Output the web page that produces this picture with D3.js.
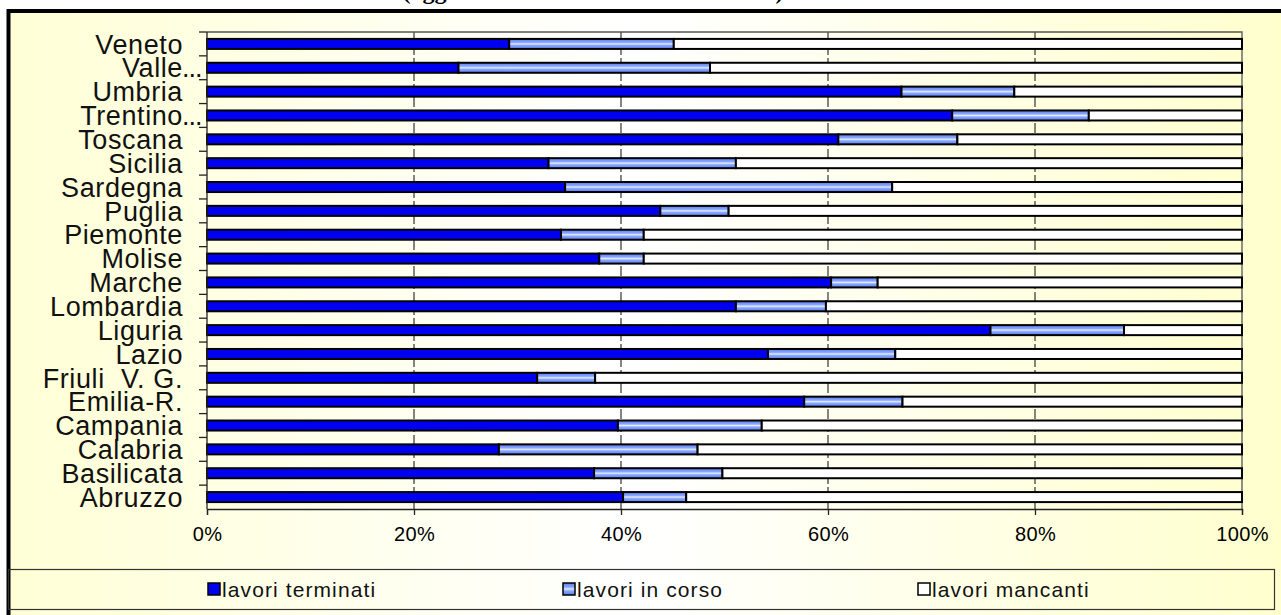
<!DOCTYPE html>
<html>
<head>
<meta charset="utf-8">
<script src="https://cdn.jsdelivr.net/npm/d3@7"></script>
<style>
  body { margin: 0; background: #fff; overflow: hidden; }
</style>
</head>
<body>
<div class="canvas"></div>
<script>
// regions, top to bottom as in the chart
const regions = [
  "Veneto", "Valle...", "Umbria", "Trentino...", "Toscana", "Sicilia",
  "Sardegna", "Puglia", "Piemonte", "Molise", "Marche", "Lombardia",
  "Liguria", "Lazio", "Friuli  V. G.", "Emilia-R.", "Campania", "Calabria",
  "Basilicata", "Abruzzo"
];

// percentages for each series
const terminati = [29.2, 24.3, 67.1, 72.0, 61.0, 33.0, 34.6, 43.8, 34.2, 37.9,
  60.3, 51.1, 75.7, 54.2, 31.9, 57.7, 39.7, 28.2, 37.4, 40.2];
const inCorso = [15.9, 24.3, 10.9, 13.2, 11.5, 18.1, 31.6, 6.6, 8.0, 4.3,
  4.5, 8.7, 12.9, 12.3, 5.6, 9.5, 13.9, 19.2, 12.4, 6.1];
const mancanti = [54.9, 51.4, 22.0, 14.8, 27.5, 48.9, 33.8, 49.6, 57.8, 57.8,
  35.2, 40.2, 11.4, 33.5, 62.5, 32.8, 46.4, 52.6, 50.2, 53.7];

const seriesNames = ["lavori terminati", "lavori in corso", "lavori mancanti"];
const xTicks = [0, 20, 40, 60, 80, 100];

const table = regions.map((r, i) => ({
  region: r,
  terminati: terminati[i],
  inCorso: inCorso[i],
  mancanti: mancanti[i],
}));

const width = 1281;
const height = 615;

const svg = d3.select(".canvas").append("svg")
  .attr("width", width)
  .attr("height", height);

const defs = svg.append("defs");

const bg = defs.append("linearGradient").attr("id", "bg")
  .attr("x1", 0).attr("x2", 1).attr("y1", 0).attr("y2", 0);
bg.append("stop").attr("offset", "0%").attr("stop-color", "#ffffd6");
bg.append("stop").attr("offset", "48%").attr("stop-color", "#ffffff");
bg.append("stop").attr("offset", "100%").attr("stop-color", "#ffffcc");

const stripe = defs.append("linearGradient").attr("id", "stripe")
  .attr("x1", 0).attr("x2", 0).attr("y1", 0).attr("y2", 1);
stripe.append("stop").attr("offset", "0%").attr("stop-color", "#5a7cf0");
stripe.append("stop").attr("offset", "35%").attr("stop-color", "#8aa8ff");
stripe.append("stop").attr("offset", "50%").attr("stop-color", "#e4ecff");
stripe.append("stop").attr("offset", "65%").attr("stop-color", "#8aa8ff");
stripe.append("stop").attr("offset", "100%").attr("stop-color", "#5a7cf0");

const colors = ["#0000f0", "url(#stripe)", "#ffffff"];

// title, mostly cut off at the top
svg.append("text")
  .attr("x", 593)
  .attr("y", -1)
  .attr("text-anchor", "middle")
  .style("font-family", "Liberation Serif, serif")
  .style("font-weight", "bold")
  .style("font-size", "24px")
  .text("(aggiornamento al 31 dicembre 2008)");

// background and frame
svg.append("rect")
  .attr("x", 8.5)
  .attr("y", 11)
  .attr("width", 1300)
  .attr("height", 640)
  .attr("fill", "url(#bg)")
  .attr("stroke", "#000")
  .attr("stroke-width", 4);

const plot = { left: 207, right: 1242, top: 32, bottom: 509 };

const x = d3.scaleLinear().domain([0, 100]).range([plot.left, plot.right]);
const y = d3.scaleBand().domain(regions).range([plot.top, plot.bottom])
  .paddingInner(0.58).paddingOuter(0.29);
const yBand = d3.scaleBand().domain(regions).range([plot.top, plot.bottom]);

// gridlines
svg.append("g")
  .selectAll("line")
  .data(xTicks.slice(1, -1))
  .join("line")
  .attr("x1", (d) => x(d))
  .attr("x2", (d) => x(d))
  .attr("y1", plot.top)
  .attr("y2", plot.bottom)
  .attr("stroke", "#444")
  .attr("stroke-width", 1.3)
  .attr("stroke-dasharray", "10,3");

// plot border top / right
svg.append("path")
  .attr("d", `M${plot.left},${plot.top}H${plot.right}V${plot.bottom}`)
  .attr("fill", "none")
  .attr("stroke", "#555")
  .attr("stroke-width", 1.3);

// stacked bars
const stack = d3.stack().keys(["terminati", "inCorso", "mancanti"]);
const layers = stack(table);

svg.append("g")
  .selectAll("g")
  .data(layers)
  .join("g")
  .attr("fill", (d, i) => colors[i])
  .selectAll("rect")
  .data((d) => d)
  .join("rect")
  .attr("x", (d) => x(d[0]))
  .attr("y", (d) => y(d.data.region))
  .attr("width", (d) => x(d[1]) - x(d[0]))
  .attr("height", y.bandwidth())
  .attr("stroke", "#000")
  .attr("stroke-width", 2);

// x axis
const xAxis = svg.append("g")
  .attr("transform", `translate(0,${plot.bottom})`)
  .call(d3.axisBottom(x).tickValues(xTicks).tickSize(6).tickPadding(12)
    .tickFormat((d) => d + "%"));
xAxis.select(".domain").attr("stroke", "#222").attr("stroke-width", 1.3);
xAxis.selectAll(".tick line").attr("stroke", "#222").attr("stroke-width", 1.3);
xAxis.selectAll("text")
  .attr("fill", "#000")
  .style("font-family", "Liberation Sans, Arial, sans-serif")
  .style("font-size", "20px")
  .style("letter-spacing", "0.4px");

// y axis: ticks at band edges
svg.append("line")
  .attr("x1", plot.left).attr("x2", plot.left)
  .attr("y1", plot.top).attr("y2", plot.bottom)
  .attr("stroke", "#222").attr("stroke-width", 1.3);

svg.append("g")
  .selectAll("line")
  .data(regions)
  .join("line")
  .attr("x1", plot.left - 8)
  .attr("x2", plot.left)
  .attr("y1", (d) => yBand(d))
  .attr("y2", (d) => yBand(d))
  .attr("stroke", "#222")
  .attr("stroke-width", 1.3);

const labels = svg.append("g")
  .style("font-family", "Liberation Sans, Arial, sans-serif")
  .style("font-size", "27px")
  .style("letter-spacing", "0.6px")
  .attr("fill", "#111");

labels.selectAll("text.name")
  .data(regions)
  .join("text")
  .attr("class", "name")
  .attr("xml:space", "preserve")
  .style("white-space", "pre")
  .attr("x", 183)
  .attr("y", (d) => yBand(d) + yBand.bandwidth() / 2)
  .attr("dy", "0.36em")
  .attr("text-anchor", "end")
  .text((d) => d.replace("...", ""));

labels.selectAll("text.dots")
  .data(regions.filter((d) => d.endsWith("...")))
  .join("text")
  .attr("class", "dots")
  .attr("x", 182)
  .attr("y", (d) => yBand(d) + yBand.bandwidth() / 2)
  .attr("dy", "0.36em")
  .style("letter-spacing", "-1px")
  .text("...");

// legend
svg.append("rect")
  .attr("x", 8.5)
  .attr("y", 569.5)
  .attr("width", 1266)
  .attr("height", 40)
  .attr("fill", "none")
  .attr("stroke", "#333")
  .attr("stroke-width", 1.2);

const legend = svg.append("g")
  .selectAll("g")
  .data(seriesNames)
  .join("g")
  .attr("transform", (d, i) => `translate(${208 + i * 355},589)`);

legend.append("rect")
  .attr("x", 0)
  .attr("y", -6)
  .attr("width", 12)
  .attr("height", 12)
  .attr("fill", (d, i) => colors[i])
  .attr("stroke", "#000")
  .attr("stroke-width", 1.5);

legend.append("text")
  .attr("x", 14)
  .attr("dy", "0.36em")
  .style("font-family", "Liberation Sans, Arial, sans-serif")
  .style("font-size", "21px")
  .style("letter-spacing", "1.1px")
  .attr("fill", "#111")
  .text((d) => d);
</script>
</body>
</html>
